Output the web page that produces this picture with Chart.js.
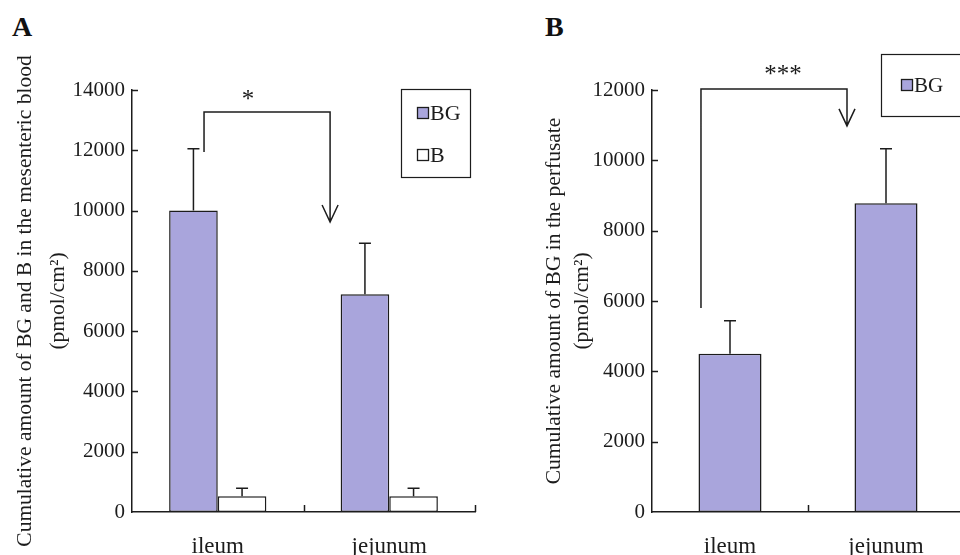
<!DOCTYPE html>
<html>
<head>
<meta charset="utf-8">
<script src="https://cdn.jsdelivr.net/npm/chart.js@4/dist/chart.umd.min.js"></script>
<style>
  html, body { margin: 0; padding: 0; background: #fff; }
  body { width: 960px; height: 555px; overflow: hidden; position: relative; }
  .panel { position: absolute; top: 0; }
  .tag { position: absolute; font: bold 28px 'Liberation Serif', 'Times New Roman', serif; line-height: 28px; color: #111; }
</style>
</head>
<body>
<div class="tag" style="left:12px; top:13px;">A</div>
<div class="tag" style="left:545px; top:13px;">B</div>
<div class="panel" style="left:0;"><canvas id="chartA" width="480" height="555"></canvas></div>
<div class="panel" style="left:480px;"><canvas id="chartB" width="520" height="555"></canvas></div>
<script>
// ---- data ----
const categories = ['ileum', 'jejunum'];

// panel A: mesenteric blood
const bgMeanA = [10000, 7220];
const bgErrTopA = [12050, 8920];
const bMeanA = [520, 520];
const bErrTopA = [790, 790];
const yTicksA = [0, 2000, 4000, 6000, 8000, 10000, 12000, 14000];

// panel B: perfusate
const bgMeanB = [4500, 8780];
const bgErrTopB = [5440, 10330];
const yTicksB = [0, 2000, 4000, 6000, 8000, 10000, 12000];

// significance brackets (x in category units, y in data units)
const bracketA = { x0: -0.08, x1: 0.655, yStart: 11940, yTop: 13270, yEnd: 9620, label: '*', labelX: 0.177, labelY: 13450 };
const bracketB = { x0: -0.186, x1: 0.75, yStart: 5800, yTop: 12030, yEnd: 10980, label: '***', labelX: 0.34, labelY: 12220 };

const SERIF = "'Liberation Serif', 'Times New Roman', serif";
const INK = '#1c1c1c';
const LAVENDER = '#a9a5dc';

Chart.defaults.font.family = SERIF;
Chart.defaults.color = INK;

// error bars, significance bracket, inside tick marks and boxed legend
const extras = {
    id: 'extras',
    afterDatasetsDraw(chart, args, opts) {
        const ctx = chart.ctx;
        const xs = chart.scales.x, ys = chart.scales.y;
        const area = chart.chartArea;
        ctx.save();
        ctx.strokeStyle = INK;
        ctx.lineWidth = 1.5;

        // error bars (upper only)
        opts.errTops.forEach((tops, di) => {
            const meta = chart.getDatasetMeta(di);
            tops.forEach((top, i) => {
                const bar = meta.data[i];
                const yt = ys.getPixelForValue(top);
                ctx.beginPath();
                ctx.moveTo(bar.x, bar.y);
                ctx.lineTo(bar.x, yt);
                ctx.moveTo(bar.x - 6, yt);
                ctx.lineTo(bar.x + 6, yt);
                ctx.stroke();
            });
        });

        // tick marks drawn inside the plot
        ys.ticks.forEach(t => {
            if (t.value === 0) return;
            const py = Math.round(ys.getPixelForValue(t.value)) + 0.5;
            ctx.beginPath();
            ctx.moveTo(area.left, py);
            ctx.lineTo(area.left + 6, py);
            ctx.stroke();
        });
        for (let i = 1; i <= categories.length; i++) {
            const px = Math.round(xs.getPixelForValue(i - 0.5)) + 0.5;
            ctx.beginPath();
            ctx.moveTo(px, area.bottom);
            ctx.lineTo(px, area.bottom - 7);
            ctx.stroke();
        }

        // bracket with arrow
        const b = opts.bracket;
        const x0 = xs.getPixelForValue(b.x0), x1 = xs.getPixelForValue(b.x1);
        const yS = ys.getPixelForValue(b.yStart), yT = ys.getPixelForValue(b.yTop), yE = ys.getPixelForValue(b.yEnd);
        ctx.beginPath();
        ctx.moveTo(x0, yS);
        ctx.lineTo(x0, yT);
        ctx.lineTo(x1, yT);
        ctx.lineTo(x1, yE);
        ctx.moveTo(x1 - 8, yE - 17);
        ctx.lineTo(x1, yE);
        ctx.lineTo(x1 + 8, yE - 17);
        ctx.stroke();
        ctx.fillStyle = INK;
        ctx.font = '25px ' + SERIF;
        ctx.textAlign = 'center';
        ctx.textBaseline = 'alphabetic';
        ctx.fillText(b.label, xs.getPixelForValue(b.labelX), ys.getPixelForValue(b.labelY));

        // legend box
        const L = opts.legend;
        ctx.lineWidth = 1.2;
        ctx.strokeRect(L.left + 0.5, L.top + 0.5, L.width, L.height);
        ctx.font = L.fontSize + 'px ' + SERIF;
        ctx.textAlign = 'left';
        ctx.textBaseline = 'middle';
        chart.data.datasets.forEach((ds, i) => {
            const cy = L.rows[i];
            ctx.fillStyle = ds.backgroundColor;
            ctx.fillRect(L.swatchX, cy - 6, 11, 12);
            ctx.strokeStyle = INK;
            ctx.lineWidth = 1.3;
            ctx.strokeRect(L.swatchX + 0.5, cy - 5.5, 11, 11);
            ctx.fillStyle = INK;
            ctx.fillText(ds.label, L.swatchX + 13, cy + 1);
        });
        ctx.restore();
    }
};

function makeScales(yTicks, yMax, yWidth, titleSpacing, titlePad) {
    return {
        x: {
            grid: { display: false, drawTicks: false },
            border: { display: true, color: INK, width: 1.5 },
            ticks: { font: { size: 23 }, color: INK, padding: 21 },
            afterFit(s) { s.height = 43; }
        },
        y: {
            min: 0,
            max: yMax,
            grid: { display: false, drawTicks: false },
            border: { display: true, color: INK, width: 1.5 },
            afterBuildTicks(s) { s.ticks = yTicks.map(v => ({ value: v })); },
            ticks: { font: { size: 21 }, color: INK, padding: 7, callback: v => String(v) },
            afterFit(s) { s.width = yWidth; },
            title: {
                display: true,
                text: [],
                color: INK,
                font: { size: 21.5, lineHeight: titleSpacing },
                padding: { top: titlePad, bottom: 0 }
            }
        }
    };
}

const scalesA = makeScales(yTicksA, 14000, 132, 1.535, 9);
scalesA.y.title.text = ['Cumulative amount of BG and B in the mesenteric blood', '(pmol/cm²)'];

new Chart(document.getElementById('chartA'), {
    type: 'bar',
    data: {
        labels: categories,
        datasets: [
            { label: 'BG', data: bgMeanA, backgroundColor: LAVENDER, borderColor: INK, borderWidth: 1.5, borderSkipped: false },
            { label: 'B', data: bMeanA, backgroundColor: '#ffffff', borderColor: INK, borderWidth: 1.5, borderSkipped: false }
        ]
    },
    options: {
        responsive: false,
        animation: false,
        layout: { padding: { top: 90, left: 0, right: 5, bottom: 0 } },
        datasets: { bar: { categoryPercentage: 0.567, barPercentage: 1 } },
        scales: scalesA,
        plugins: {
            legend: { display: false },
            tooltip: { enabled: false },
            extras: {
                errTops: [bgErrTopA, bErrTopA],
                bracket: bracketA,
                legend: { left: 401, top: 89, width: 69, height: 88, swatchX: 417, rows: [113, 155], fontSize: 22 }
            }
        }
    },
    plugins: [extras]
});

const scalesB = makeScales(yTicksB, 12000, 172, 1.3, 60);
scalesB.y.title.text = ['Cumulative amount of BG in the perfusate', '(pmol/cm²)'];

new Chart(document.getElementById('chartB'), {
    type: 'bar',
    data: {
        labels: categories,
        datasets: [
            { label: 'BG', data: bgMeanB, backgroundColor: LAVENDER, borderColor: INK, borderWidth: 1.5, borderSkipped: false }
        ]
    },
    options: {
        responsive: false,
        animation: false,
        layout: { padding: { top: 90, left: 0, right: 36, bottom: 0 } },
        datasets: { bar: { categoryPercentage: 0.404, barPercentage: 1 } },
        scales: scalesB,
        plugins: {
            legend: { display: false },
            tooltip: { enabled: false },
            extras: {
                errTops: [bgErrTopB],
                bracket: bracketB,
                legend: { left: 401, top: 54, width: 130, height: 62, swatchX: 421, rows: [85], fontSize: 21 }
            }
        }
    },
    plugins: [extras]
});
</script>
</body>
</html>
